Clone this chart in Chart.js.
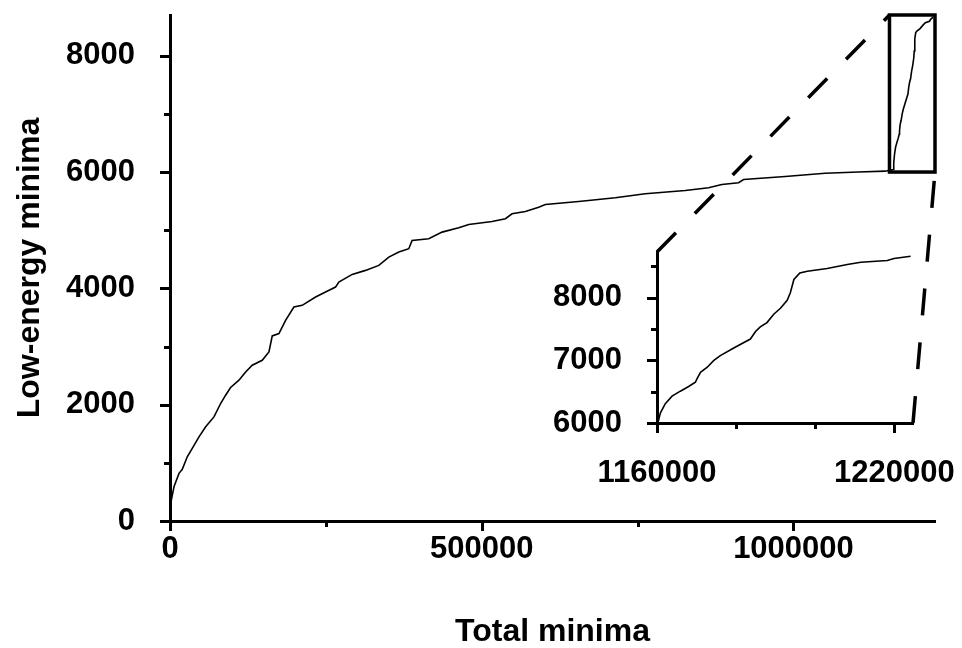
<!DOCTYPE html>
<html lang="en">
  <head>
    <meta charset="UTF-8" />
    <title>Low-energy minima vs total minima</title>
    <script src="https://cdn.jsdelivr.net/npm/chart.js"></script>
    <style>
      body { margin: 0; background: #fff; }
      .Wrap { position: relative; width: 962px; height: 648px; }
      .Wrap canvas { position: absolute; left: 0; top: 0; }
      #insetChart { pointer-events: none; }
    </style>
  </head>
  <body>
    <div class="Wrap">
      <canvas id="mainChart" width="962" height="648"></canvas>
      <canvas id="insetChart" width="962" height="648"></canvas>
    </div>
    <script>
      const totalMinima = [
        0, 1100, 6400, 14400, 19700, 27700, 35700, 46500, 57200, 70500,
        81200, 89200, 97200, 110600, 121300, 131900, 147900, 158700, 164000, 174700,
        185400, 198700, 212000, 233500, 249500, 265500, 270800, 292200, 313600, 334900,
        351000, 367000, 383000, 388300, 415000, 436400, 463100, 479200, 516500, 538000,
        548600, 570000, 591300, 602000, 655400, 714200, 762300, 826400, 863800, 885100,
        911900, 919900, 986700, 1050800, 1104200, 1147000,
        1160400, 1160840, 1162100, 1163800, 1165900, 1168000, 1169700, 1170100, 1171000, 1172700,
        1174300, 1176000, 1179400, 1181500, 1183600, 1184900, 1186100, 1187800, 1189500, 1191200,
        1192900, 1193700, 1194600, 1196100, 1198000, 1203000, 1208100, 1211500, 1218200, 1219900,
        1224100
      ];
      const lowEnergyMinima = [
        0, 304, 589, 819, 888, 1104, 1248, 1447, 1619, 1790,
        2020, 2163, 2295, 2421, 2563, 2678, 2764, 2907, 3182, 3222,
        3451, 3679, 3708, 3851, 3937, 4022, 4108, 4240, 4309, 4395,
        4538, 4624, 4682, 4824, 4853, 4967, 5042, 5099, 5150, 5197,
        5282, 5322, 5396, 5442, 5494, 5557, 5626, 5682, 5729, 5785,
        5815, 5871, 5923, 5980, 6000, 6015,
        6043, 6159, 6308, 6429, 6508, 6583, 6651, 6705, 6810, 6890,
        6995, 7075, 7197, 7270, 7340, 7460, 7535, 7603, 7736, 7831,
        7958, 8080, 8292, 8397, 8424, 8467, 8530, 8567, 8593, 8625,
        8662
      ];

      // tick values (labels only on the major ones)
      const mainXTicks = [0, 250000, 500000, 750000, 1000000];
      const mainYTicks = [0, 1000, 2000, 3000, 4000, 5000, 6000, 7000, 8000];
      const insetXTicks = [1160000, 1180000, 1200000, 1220000];
      const insetYTicks = [6000, 6500, 7000, 7500, 8000, 8500];

      const mainX = { min: 0, max: 1227000, major: 500000, ticks: mainXTicks };
      const mainY = { min: 0, max: 8700, major: 2000, ticks: mainYTicks };
      const insetX = { min: 1160000, max: 1224700, major: 60000, ticks: insetXTicks };
      const insetY = { min: 6000, max: 8730, major: 1000, ticks: insetYTicks };
      const zoomBoxX = [1154000, 1227000];
      const zoomBoxY = [6000, 8700];

      const points = totalMinima.map((x, i) => ({ x: x, y: lowEnergyMinima[i] }));

      const tickFont = { family: "'Liberation Sans', Arial, sans-serif", size: 31, weight: "bold" };
      const titleFont = { family: "'Liberation Sans', Arial, sans-serif", size: 32, weight: "bold", lineHeight: 1 };

      function isMajor(v, axis) {
        const r = (v - axis.min) % axis.major;
        return Math.abs(r) < 1e-6 || Math.abs(r - axis.major) < 1e-6;
      }

      // major / minor tick marks drawn outside the axes
      const tickMarks = {
        id: "tickMarks",
        afterDraw(chart, args, opts) {
          const { ctx, chartArea } = chart;
          const xs = chart.scales.x;
          const ys = chart.scales.y;
          ctx.save();
          ctx.strokeStyle = "#000";
          ctx.lineWidth = 3;
          xs.ticks.forEach((t) => {
            const px = Math.round(xs.getPixelForValue(t.value)) + 0.5;
            const len = isMajor(t.value, opts.x) ? 10 : 6;
            ctx.beginPath();
            ctx.moveTo(px, chartArea.bottom);
            ctx.lineTo(px, chartArea.bottom + len);
            ctx.stroke();
          });
          ys.ticks.forEach((t) => {
            const py = Math.round(ys.getPixelForValue(t.value)) + 0.5;
            const len = isMajor(t.value, opts.y) ? 10 : 6;
            ctx.beginPath();
            ctx.moveTo(chartArea.left, py);
            ctx.lineTo(chartArea.left - len, py);
            ctx.stroke();
          });
          ctx.restore();
        },
      };

      function axisOpts(axis, size, pad) {
        return {
          type: "linear",
          min: axis.min,
          max: axis.max,
          grid: { display: false, drawTicks: false, tickLength: 0 },
          border: { display: true, color: "#000", width: 3 },
          ticks: {
            autoSkip: false,
            maxRotation: 0,
            minRotation: 0,
            color: "#000",
            font: tickFont,
            padding: pad,
            callback: (v) => (isMajor(v, axis) ? String(v) : ""),
          },
          afterBuildTicks: (s) => {
            s.ticks = axis.ticks.map((v) => ({ value: v }));
          },
          afterFit: (s) => {
            size(s);
            // no label overhang padding, the layout is fixed
            s.paddingLeft = 0;
            s.paddingRight = 0;
            s.paddingTop = 0;
            s.paddingBottom = 0;
          },
        };
      }

      const mainChart = new Chart(document.getElementById("mainChart"), {
        type: "line",
        data: {
          datasets: [
            { data: points, borderColor: "#000", borderWidth: 1.6, pointRadius: 0, fill: false },
          ],
        },
        plugins: [tickMarks],
        options: {
          responsive: false,
          animation: false,
          devicePixelRatio: 1,
          layout: { padding: { left: 0, top: 15, right: 27, bottom: 0 } },
          plugins: { legend: { display: false }, tooltip: { enabled: false }, tickMarks: { x: mainX, y: mainY } },
          scales: {
            x: Object.assign(
              axisOpts(mainX, (s) => { s.height = 127; }, 10),
              { title: { display: true, text: "Total minima", color: "#000", font: titleFont, padding: { top: 0, bottom: 0 } } }
            ),
            y: Object.assign(
              axisOpts(mainY, (s) => { s.width = 170; }, 35),
              { title: { display: true, text: "Low-energy minima", color: "#000", font: titleFont, padding: { top: 14, bottom: 0 } } }
            ),
          },
        },
      });

      // zoom box on the main chart and dashed connectors to the inset
      const zoomLines = {
        id: "zoomLines",
        afterDraw(chart) {
          const { ctx, chartArea } = chart;
          const mx = mainChart.scales.x;
          const my = mainChart.scales.y;
          const bx1 = mx.getPixelForValue(zoomBoxX[0]);
          const bx2 = mx.getPixelForValue(zoomBoxX[1]);
          const by1 = my.getPixelForValue(zoomBoxY[1]);
          const by2 = my.getPixelForValue(zoomBoxY[0]);
          ctx.save();
          ctx.strokeStyle = "#000";
          ctx.lineWidth = 3.5;
          ctx.strokeRect(bx1, by1, bx2 - bx1, by2 - by1);
          ctx.setLineDash([27, 27]);
          ctx.beginPath();
          ctx.moveTo(chartArea.left, chartArea.top);
          ctx.lineTo(bx1, by1);
          ctx.moveTo(chartArea.right, chartArea.bottom);
          ctx.lineTo(bx2, by2);
          ctx.stroke();
          ctx.restore();
        },
      };

      new Chart(document.getElementById("insetChart"), {
        type: "line",
        data: {
          datasets: [
            { data: points, borderColor: "#000", borderWidth: 1.6, pointRadius: 0, fill: false },
          ],
        },
        plugins: [tickMarks, zoomLines],
        options: {
          responsive: false,
          animation: false,
          devicePixelRatio: 1,
          layout: { padding: { left: 0, top: 252, right: 49, bottom: 0 } },
          plugins: { legend: { display: false }, tooltip: { enabled: false }, tickMarks: { x: insetX, y: insetY } },
          scales: {
            x: axisOpts(insetX, (s) => { s.height = 225; }, 32),
            y: axisOpts(insetY, (s) => { s.width = 657; }, 35),
          },
        },
      });
    </script>
  </body>
</html>
